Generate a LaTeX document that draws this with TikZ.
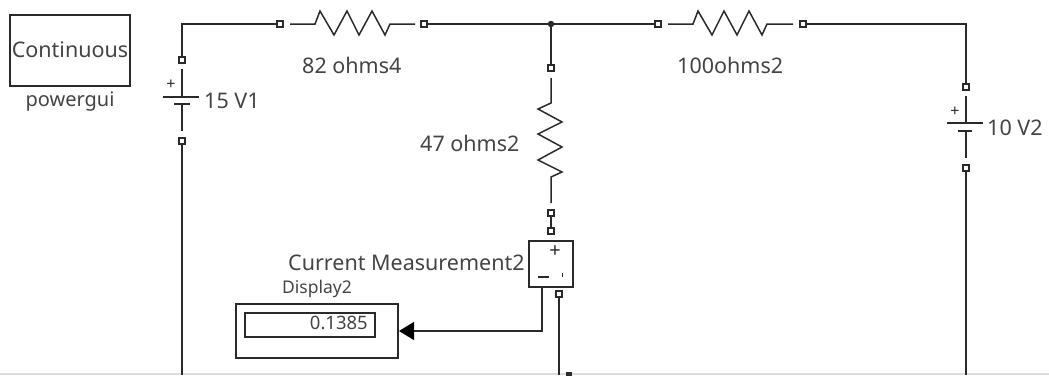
\documentclass[tikz,border=0pt]{standalone}
\usepackage{fontspec}
\setmainfont{Noto Sans}
\usetikzlibrary{arrows.meta}
\definecolor{wirecol}{HTML}{2A2A2A}
\definecolor{txtcol}{HTML}{444444}
\definecolor{edgecol}{HTML}{DDDDDD}
\tikzset{
  wire/.style={draw=wirecol,line width=1.5pt},
  thinbox/.style={draw=wirecol,line width=1.6pt,fill=white},
  term/.style={draw=wirecol,line width=2.2pt,fill=white,rectangle,minimum size=5.5pt,inner sep=0pt,outer sep=0pt},
  dotj/.style={fill=wirecol,circle,minimum size=6.5pt,inner sep=0pt,outer sep=0pt},
  lab/.style={text=txtcol,font=\fontsize{21.5}{24}\selectfont,inner sep=0pt,anchor=west},
  smalllab/.style={text=txtcol,font=\fontsize{17.5}{20}\selectfont,inner sep=0pt,anchor=west},
  sign/.style={text=wirecol,font=\fontsize{16}{16}\selectfont\bfseries,inner sep=0pt},
}
\begin{document}
\begin{tikzpicture}[x=1pt,y=-1pt]
\useasboundingbox (0,0) rectangle (1049,375);
\fill[edgecol] (0,373) rectangle (1049,375);
% free ends on the lower edge
\coordinate (b1) at (182,375);
\coordinate (b2) at (559,375);
\coordinate (b3) at (966,375);
% terminals
\node[term] (tL1) at (182,60) {};
\node[term] (tL2) at (182,141) {};
\node[term] (r1a) at (280,24) {};
\node[term] (r1b) at (424,24) {};
\node[dotj] (j) at (551,24) {};
\node[term] (r2a) at (658,24) {};
\node[term] (r2b) at (803,24) {};
\node[term] (tR1) at (966,87) {};
\node[term] (tR2) at (966,168) {};
\node[term] (r3a) at (551,68) {};
\node[term] (r3b) at (551,213) {};
\node[term] (cma) at (551,231) {};
\node[term] (cmb) at (559,294) {};
\node[term,minimum size=3pt] (bt) at (569,375) {};
% boxes
\node[thinbox,minimum width=120pt,minimum height=71pt,inner sep=0pt,outer sep=0pt] (pg) at (70,50.5) {};
\node[text=txtcol,font=\fontsize{21.5}{24}\selectfont,inner sep=0pt] (pgt) at (70,50) {Continuous};
\node[text=txtcol,font=\fontsize{20}{22}\selectfont,inner sep=0pt] (pgl) at (70,102) {powergui};
\node[thinbox,minimum width=44pt,minimum height=46pt,inner sep=0pt,outer sep=0pt] (cm) at (551,264) {};
\node[thinbox,minimum width=162pt,minimum height=54pt,inner sep=0pt,outer sep=0pt] (dsp) at (317,331) {};
\node[thinbox,minimum width=130pt,minimum height=24pt,inner sep=0pt,outer sep=0pt] (dspin) at (310,325) {};
\node[text=txtcol,font=\fontsize{18.5}{20}\selectfont,inner sep=0pt,anchor=east] (val) at (368,323) {0.1385};
% signs in current measurement
\node[sign,font=\fontsize{20}{20}\selectfont] (cmp) at (555,252) {+};
\node[sign] (cmm) at (543,277) {\rule{11pt}{1.5pt}};
\node[sign] (cmo) at (562.5,275) {\rule{1.5pt}{3.5pt}};
% connectors
\draw[wire] (tL1) |- (r1a);
\draw[wire] (r1b) -- (j);
\draw[wire] (j) -- (r2a);
\draw[wire] (r2b) -| (tR1);
\draw[wire] (j) -- (r3a);
\draw[wire] (r3b) -- (cma);
\draw[wire] (tL2) -- (b1);
\draw[wire] (tR2) -- (b3);
\draw[wire] (cmb) -- (b2);
\coordinate (cmout) at (542,287);
\coordinate (dspport) at (399,331);
\draw[wire,-{Triangle[length=15pt,width=18pt,color=black,fill=black]}] (cmout) |- (dspport);
% resistors
\draw[wire,line join=miter] (290,24) -- (315,24) -- (320,11) -- (334,35) -- (347,11) -- (359,35) -- (372,11) -- (385,35) -- (390,24) -- (415,24);
\draw[wire,line join=miter] (668,24) -- (693,24) -- (698,11) -- (712,35) -- (724,11) -- (737,35) -- (749,11) -- (762,35) -- (767,24) -- (793,24);
\draw[wire,line join=miter] (551,78) -- (551,103) -- (538,109) -- (562,122) -- (538,134) -- (562,147) -- (538,160) -- (562,172) -- (551,177) -- (551,203);
% batteries
\draw[wire] (182,69) -- (182,97);
\draw[wire] (163,97) -- (199,97);
\draw[wire] (174,104) -- (190,104);
\draw[wire] (182,104) -- (182,131);
\draw[wire] (966,96) -- (966,123);
\draw[wire] (947,123) -- (983,123);
\draw[wire] (958,131) -- (972,131);
\draw[wire] (966,131) -- (966,158);
\node[sign] (pL) at (171,85) {+};
\node[sign] (pR) at (955,112) {+};
% labels
\node[lab] (l1) at (204,101) {15 V1};
\node[lab] (l2) at (987,128) {10 V2};
\node[lab] (l3) at (302,65) {82 ohms4};
\node[lab] (l4) at (677,65) {100ohms2};
\node[lab] (l5) at (420,143) {47 ohms2};
\node[lab] (l6) at (288,263) {Current Measurement2};
\node[smalllab] (l7) at (282,289) {Display2};
\end{tikzpicture}
\end{document}
